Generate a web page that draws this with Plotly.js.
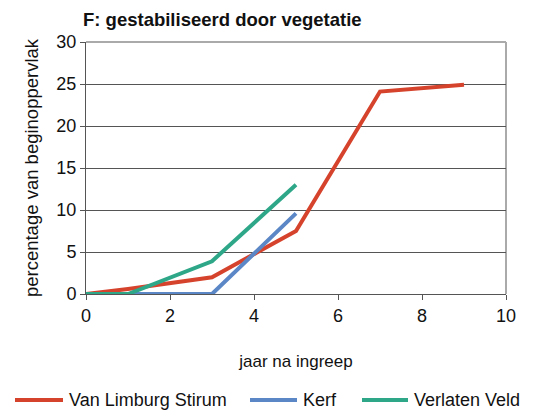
<!DOCTYPE html>
<html>
<head>
<meta charset="utf-8">
<script src="https://cdn.plot.ly/plotly-3.0.1.min.js"></script>
<style>html,body{margin:0;padding:0;background:#fff}#chart{width:544px;height:411px}</style>
</head>
<body>
<div id="chart"></div>
<script>
const seriesNames = ["Van Limburg Stirum", "Kerf", "Verlaten Veld"];
const xVLS = [0, 1, 3, 5, 7, 9];
const yVLS = [0, 0.6, 2.0, 7.5, 24.1, 24.9];
const xKerf = [0, 1, 3, 5];
const yKerf = [0, 0, 0, 9.6];
const xVV = [0, 1, 3, 5];
const yVV = [0, 0, 3.9, 13.0];
const colors = ["#D6432D", "#5B87C7", "#2EA789"];

const font = "Liberation Sans, Arial, sans-serif";
const traces = [
  {x: xVLS, y: yVLS, name: seriesNames[0]},
  {x: xKerf, y: yKerf, name: seriesNames[1]},
  {x: xVV, y: yVV, name: seriesNames[2]}
].map((t, i) => Object.assign(t, {
  type: "scatter", mode: "lines",
  line: {color: colors[i], width: 4},
  cliponaxis: false, showlegend: false
}));

// plot area in pixels: x 86..506, y 42..294
const L = 86, R = 506, T = 42, B = 294;
const px = v => (v - L) / (R - L);
const py = v => (B - v) / (B - T);

// manual legend (line samples + labels)
const legendLineX = [[15, 63], [250, 297], [362, 408]];
const legendY = 400;
const shapes = [
  {type: "line", xref: "paper", yref: "paper", x0: 1, x1: 1, y0: 0, y1: 1, line: {color: "#aaa", width: 2}, layer: "below"},
  {type: "line", xref: "paper", yref: "paper", x0: 0, x1: 1, y0: 1, y1: 1, line: {color: "#aaa", width: 2}, layer: "below"}
];
const annotations = [];
seriesNames.forEach((n, i) => {
  shapes.push({type: "line", xref: "paper", yref: "paper",
    x0: px(legendLineX[i][0]), x1: px(legendLineX[i][1]), y0: py(legendY), y1: py(legendY),
    line: {color: colors[i], width: 4}});
  annotations.push({xref: "paper", yref: "paper", x: px(legendLineX[i][1] + 4), y: py(legendY),
    xanchor: "left", yanchor: "middle", showarrow: false, text: n,
    font: {size: 18, color: "#111"}});
});

const layout = {
  width: 544, height: 411,
  margin: {l: L, r: 544 - R, t: T, b: 411 - B},
  paper_bgcolor: "#fff", plot_bgcolor: "#fff",
  font: {family: font, color: "#111"},
  title: {text: "<b>F: gestabiliseerd door vegetatie</b>", x: 83/544, xanchor: "left", y: 1 - 20/411, yanchor: "middle", font: {size: 18.5, color: "#111"}},
  xaxis: {
    range: [0, 10], dtick: 2, tick0: 0, showgrid: false, zeroline: false,
    showline: true, linecolor: "#555", linewidth: 1,
    ticks: "outside", ticklen: 5, tickcolor: "#555",
    tickfont: {size: 18, color: "#111"},
    title: {text: "jaar na ingreep", font: {size: 17, color: "#111"}, standoff: 30}
  },
  yaxis: {
    range: [0, 30], dtick: 5, tick0: 0, showgrid: true, gridcolor: "#555", gridwidth: 1,
    zeroline: false, showline: true, linecolor: "#555", linewidth: 1,
    ticks: "outside", ticklen: 5, tickcolor: "#555",
    tickfont: {size: 18, color: "#111"},
    title: {text: "percentage van beginoppervlak", font: {size: 18.5, color: "#111"}, standoff: 12}
  },
  shapes: shapes,
  annotations: annotations,
  showlegend: false
};

Plotly.newPlot("chart", traces, layout, {displayModeBar: false, staticPlot: true});
</script>
</body>
</html>
